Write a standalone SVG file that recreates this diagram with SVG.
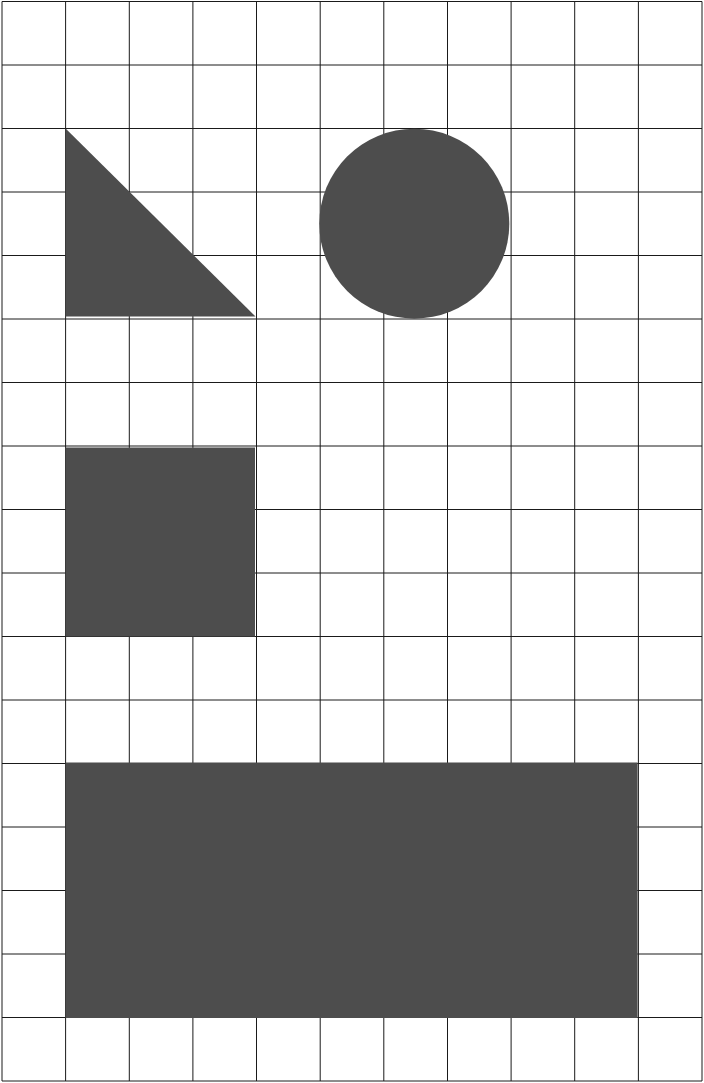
<svg xmlns="http://www.w3.org/2000/svg" width="704" height="1083" viewBox="0 0 704 1083">
<style>
.grid{stroke:#1a1a1a;stroke-width:1;fill:none}
.shape{fill:#4d4d4d;stroke:none}
</style>
<rect x="0" y="0" width="704" height="1083" fill="#ffffff"/>
<g id="grid" class="grid">
<path d="M2,1.5V1081 M65.6,1.5V1081 M129.3,1.5V1081 M192.9,1.5V1081 M256.5,1.5V1081 M320.2,1.5V1081 M383.8,1.5V1081 M447.5,1.5V1081 M511.1,1.5V1081 M574.7,1.5V1081 M638.4,1.5V1081 M702,1.5V1081"/>
<path d="M2,1.5H702 M2,65H702 M2,128.5H702 M2,192H702 M2,255.5H702 M2,319H702 M2,382.5H702 M2,446H702 M2,509.5H702 M2,573H702 M2,636.5H702 M2,700H702 M2,763.5H702 M2,827H702 M2,890.5H702 M2,954H702 M2,1017.5H702 M2,1081H702"/>
</g>
<g id="triangle"><polygon class="shape" points="65.6,128.5 65.6,316.5 255.5,316.5"/></g>
<g id="circle"><circle class="shape" cx="414.3" cy="223.7" r="95"/></g>
<g id="square"><rect class="shape" x="65.6" y="447.5" width="189.4" height="189"/></g>
<g id="rectangle"><rect class="shape" x="65.6" y="762.5" width="572" height="255.5"/></g>
</svg>
